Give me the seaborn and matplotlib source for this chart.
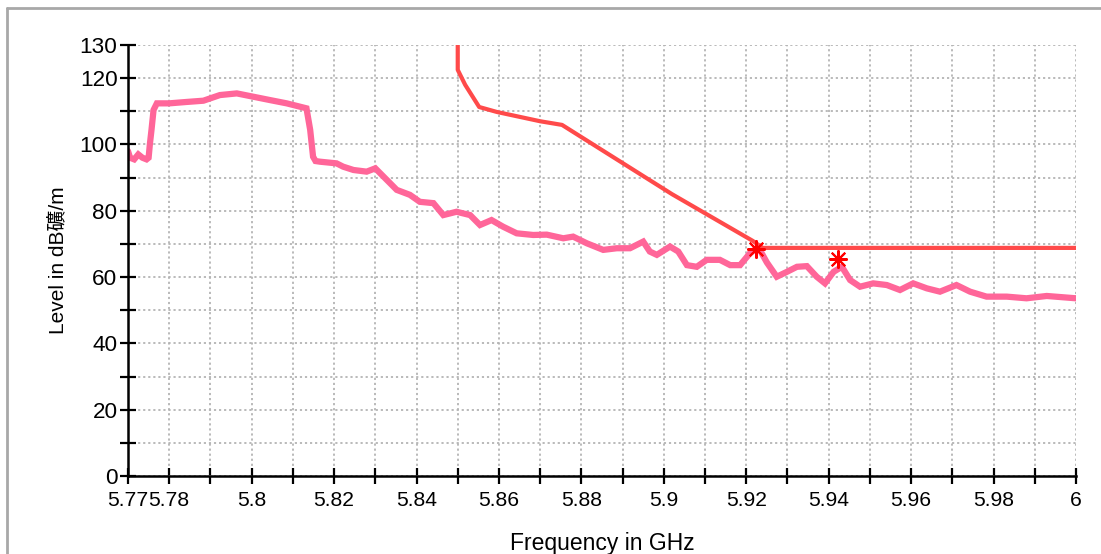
import matplotlib
matplotlib.use("Agg")
import matplotlib.pyplot as plt
import seaborn as sns
import pandas as pd
from matplotlib.lines import Line2D
from matplotlib.ticker import FixedLocator, FixedFormatter

# ---------------- data ----------------
trace_freq = [5.7700, 5.7705, 5.7715, 5.7725, 5.7735, 5.7745, 5.7750, 5.7753, 5.7757, 5.7762,
              5.7770, 5.7800, 5.7840, 5.7883, 5.7923, 5.7964, 5.8004, 5.8044, 5.8085, 5.8133,
              5.8142, 5.8149, 5.8155, 5.8166, 5.8206, 5.8222, 5.8247, 5.8279, 5.8300, 5.8320,
              5.8352, 5.8384, 5.8408, 5.8441, 5.8465, 5.8497, 5.8530, 5.8554, 5.8582, 5.8610,
              5.8643, 5.8683, 5.8716, 5.8756, 5.8780, 5.8813, 5.8853, 5.8886, 5.8918, 5.8950,
              5.8966, 5.8983, 5.9015, 5.9035, 5.9056, 5.9080, 5.9104, 5.9136, 5.9161, 5.9185,
              5.9209, 5.9225, 5.9233, 5.9250, 5.9274, 5.9299, 5.9323, 5.9347, 5.9371, 5.9391,
              5.9412, 5.9432, 5.9452, 5.9476, 5.9508, 5.9541, 5.9573, 5.9605, 5.9638, 5.9670,
              5.9710, 5.9743, 5.9783, 5.9832, 5.9880, 5.9929, 6.0000]
trace_level = [98.0, 96.0, 95.5, 97.0, 96.0, 95.5, 96.0, 100.0, 104.4, 110.4,
               112.4, 112.4, 112.8, 113.2, 114.9, 115.4, 114.4, 113.4, 112.4, 110.9,
               104.4, 96.3, 95.0, 94.8, 94.3, 93.3, 92.3, 91.8, 92.8, 90.3,
               86.3, 84.8, 82.7, 82.3, 78.7, 79.7, 78.7, 75.7, 77.2, 75.2,
               73.2, 72.7, 72.8, 71.7, 72.2, 70.2, 68.2, 68.7, 68.7, 70.7,
               67.7, 66.7, 69.2, 67.7, 63.6, 63.1, 65.2, 65.2, 63.6, 63.6,
               67.2, 68.7, 68.2, 64.4, 60.1, 61.6, 63.1, 63.3, 60.1, 58.1,
               61.6, 63.1, 59.1, 57.1, 58.1, 57.6, 56.1, 58.1, 56.6, 55.6,
               57.6, 55.6, 54.1, 54.1, 53.6, 54.3, 53.6]

limit_freq = [5.850, 5.850, 5.8518, 5.8552, 5.8595, 5.870, 5.8753, 5.902, 5.9216, 5.924, 6.000]
limit_level = [130.0, 122.5, 118.0, 111.3, 109.8, 107.0, 105.9, 85.0, 70.9, 68.8, 68.8]

marker_freq = [5.9223, 5.9423]
marker_level = [68.4, 65.4]

x_ticks = [5.77, 5.78, 5.79, 5.80, 5.81, 5.82, 5.83, 5.84, 5.85, 5.86, 5.87, 5.88,
           5.89, 5.90, 5.91, 5.92, 5.93, 5.94, 5.95, 5.96, 5.97, 5.98, 5.99, 6.00]
x_labels = ["5.77", "5.78", "", "5.8", "", "5.82", "", "5.84", "", "5.86", "", "5.88",
            "", "5.9", "", "5.92", "", "5.94", "", "5.96", "", "5.98", "", "6"]
y_ticks = [0, 10, 20, 30, 40, 50, 60, 70, 80, 90, 100, 110, 120, 130]
y_labels = ["0", "", "20", "", "40", "", "60", "", "80", "", "100", "", "120", "130"]

x_title = "Frequency in GHz"
y_title = "Level in dB礦/m"

trace_df = pd.DataFrame({"f": trace_freq, "v": trace_level})
limit_df = pd.DataFrame({"f": limit_freq, "v": limit_level})
marker_df = pd.DataFrame({"f": marker_freq, "v": marker_level})

# ---------------- style ----------------
sns.set_theme(style="white")
plt.rcParams["font.family"] = ["Liberation Sans", "Noto Sans CJK JP", "DejaVu Sans"]

fig = plt.figure(figsize=(11.01, 5.54), dpi=100)
ax = fig.add_axes([128 / 1101, 1 - 476 / 554, (1076 - 128) / 1101, (476 - 45) / 554])

sns.lineplot(data=trace_df, x="f", y="v", ax=ax, estimator=None, sort=False,
             color="#ff6699", linewidth=4.5, solid_joinstyle="miter", zorder=3)
sns.lineplot(data=limit_df, x="f", y="v", ax=ax, estimator=None, sort=False,
             color="#ff4a4a", linewidth=3.0, zorder=4)
sns.scatterplot(data=marker_df, x="f", y="v", ax=ax, marker=(8, 2, 0), s=150,
                color="#ff0000", linewidth=1.5, edgecolor="#ff0000", zorder=5)

ax.set_xlim(5.77, 6.0)
ax.set_ylim(0, 130)
ax.xaxis.set_major_locator(FixedLocator(x_ticks))
ax.xaxis.set_major_formatter(FixedFormatter(x_labels))
ax.yaxis.set_major_locator(FixedLocator(y_ticks))
ax.yaxis.set_major_formatter(FixedFormatter(y_labels))

ax.grid(True, which="major", color="#b4b4b4", linestyle=(0, (1.2, 1.6)), linewidth=1.3)
for s in ["top", "right"]:
    ax.spines[s].set_visible(False)
for s in ["left", "bottom"]:
    ax.spines[s].set_color("black")
    ax.spines[s].set_linewidth(1.8)
    ax.spines[s].set_zorder(6)

ax.tick_params(axis="both", direction="inout", length=11, width=1.6, colors="black",
               labelsize=16.2, pad=2, left=True, bottom=True)
ax.tick_params(axis="x", pad=5, labelsize=15.2)

ax.set_xlabel(x_title, fontsize=16.5, color="black", va="top")
ax.set_ylabel(y_title, fontsize=15, color="black")
ax.xaxis.set_label_coords(0.5, -0.13)
ax.yaxis.set_label_coords(-0.063, 0.5)

# window frame
fig.add_artist(Line2D([7 / 1101, 7 / 1101], [0, 1 - 8 / 554], transform=fig.transFigure,
                      color="#a8a8a8", linewidth=2))
fig.add_artist(Line2D([7 / 1101, 1], [1 - 8 / 554, 1 - 8 / 554], transform=fig.transFigure,
                      color="#a8a8a8", linewidth=2))

fig.savefig("out.png", dpi=100)
